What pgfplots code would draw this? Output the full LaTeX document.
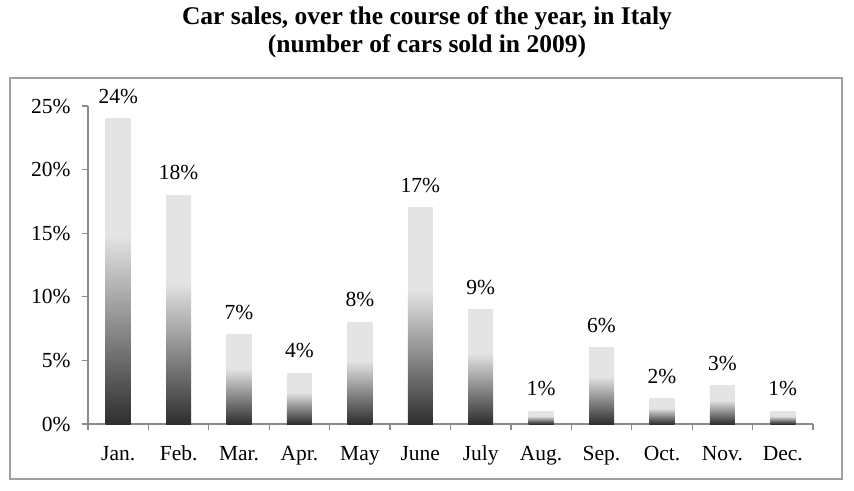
\documentclass[border=0pt]{standalone}
\usepackage{pgfplots}
\pgfplotsset{compat=1.18}
\usepackage{fontspec}
\setmainfont{Liberation Serif}
\definecolor{bardark}{HTML}{2E2E2E}
\definecolor{barlight}{HTML}{E4E4E4}
\definecolor{axgray}{HTML}{8A8A8A}
\definecolor{framegray}{HTML}{A0A0A0}
\pgfdeclareverticalshading{barshade}{100bp}{color(0bp)=(bardark); color(25bp)=(bardark); color(56bp)=(barlight); color(100bp)=(barlight)}
\begin{document}
\begin{tikzpicture}
\path[use as bounding box] (-88pt,-66pt) rectangle (766pt,424pt);
\draw[framegray, line width=1.4pt] (-78pt,-55pt) rectangle (754pt,346pt);
\node[font=\bfseries\fontsize{25.5}{29}\selectfont, anchor=base] at (339pt,399pt) {Car sales, over the course of the year, in Italy};
\node[font=\bfseries\fontsize{25.5}{29}\selectfont, anchor=base] at (339pt,371pt) {(number of cars sold in 2009)};
\begin{axis}[
  at={(0pt,0pt)}, anchor=south west,
  scale only axis, width=725pt, height=318pt,
  xmin=-0.5, xmax=11.5, ymin=0, ymax=25,
  axis x line*=bottom, axis y line*=left,
  axis line style={draw=axgray, line width=1.2pt},
  tick style={draw=axgray, line width=1.2pt},
  tick align=outside, major tick length=6pt,
  xtick={-0.5,0.5,...,11.5},
  x tick label as interval,
  xticklabels={Jan.,Feb.,Mar.,Apr.,May,June,July,Aug.,Sep.,Oct.,Nov.,Dec.},
  xticklabel style={anchor=base, yshift=-30pt},
  ytick={0,5,10,15,20,25},
  yticklabels={0\%,5\%,10\%,15\%,20\%,25\%},
  yticklabel style={xshift=-8pt},
  font=\fontsize{21.5}{25}\selectfont,
  ybar, bar width=25pt, bar shift=0pt,
  /pgf/number format/assume math mode=true,
  nodes near coords={\pgfmathprintnumber{\pgfplotspointmeta}\%},
  every node near coord/.append style={anchor=base, inner sep=0pt, yshift=15.5pt, black},
  clip=false,
]
\addplot[draw=none, shading=barshade] coordinates {(0,24)};
\addplot[draw=none, shading=barshade] coordinates {(1,18)};
\addplot[draw=none, shading=barshade] coordinates {(2,7)};
\addplot[draw=none, shading=barshade] coordinates {(3,4)};
\addplot[draw=none, shading=barshade] coordinates {(4,8)};
\addplot[draw=none, shading=barshade] coordinates {(5,17)};
\addplot[draw=none, shading=barshade] coordinates {(6,9)};
\addplot[draw=none, shading=barshade] coordinates {(7,1)};
\addplot[draw=none, shading=barshade] coordinates {(8,6)};
\addplot[draw=none, shading=barshade] coordinates {(9,2)};
\addplot[draw=none, shading=barshade] coordinates {(10,3)};
\addplot[draw=none, shading=barshade] coordinates {(11,1)};
\end{axis}
\end{tikzpicture}
\end{document}
